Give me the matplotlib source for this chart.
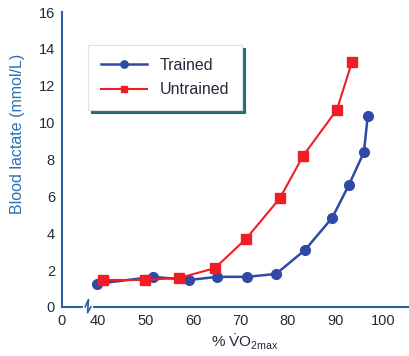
import numpy as np
import matplotlib
matplotlib.use("Agg")
import matplotlib.pyplot as plt
import matplotlib.transforms as mtransforms

## Dati
trained_x = [39.8, 51.6, 59.2, 65.1, 71.4, 77.5, 83.6, 89.3, 92.8, 96.0, 96.8]
trained_y = [1.25, 1.63, 1.46, 1.63, 1.63, 1.79, 3.09, 4.83, 6.6, 8.4, 10.36]
untrained_x = [41.1, 49.9, 57.1, 64.6, 71.2, 78.3, 83.2, 90.3, 93.5]
untrained_y = [1.46, 1.46, 1.57, 2.1, 3.7, 5.9, 8.2, 10.7, 13.3]

x_ticks = [40, 50, 60, 70, 80, 90, 100]
y_ticks = [0, 2, 4, 6, 8, 10, 12, 14, 16]

plt.rcParams['font.family'] = ['Liberation Sans', 'DejaVu Sans']
plt.rcParams['mathtext.fontset'] = 'custom'
plt.rcParams['mathtext.rm'] = 'Liberation Sans'

blue = '#2f49a6'
red = '#f01e24'
axis_col = '#2b5f9e'
text_col = '#222a3a'

fig = plt.figure(figsize=(4.10, 3.56), dpi=100)
ax = fig.add_axes([0.151, 0.138, 0.849, 0.828])

ax.plot(trained_x, trained_y, color=blue, lw=1.8, marker='o', ms=7, label='Trained')
ax.plot(untrained_x, untrained_y, color=red, lw=1.5, marker='s', ms=6.5, label='Untrained')

xmin, xmax = 32.4, 105.7
ax.set_xlim(xmin, xmax)
ax.set_ylim(0, 16)
ax.set_xticks([xmin] + x_ticks)
ax.set_xticklabels(['0'] + [str(t) for t in x_ticks])
ax.set_yticks(y_ticks)
ax.tick_params(length=0, labelsize=10.5, labelcolor=text_col, pad=5)

for s in ['top', 'right']:
    ax.spines[s].set_visible(False)
for s in ['left', 'bottom']:
    ax.spines[s].set_color(axis_col)
    ax.spines[s].set_linewidth(1.5)

# interruzione asse x
trans = mtransforms.blended_transform_factory(ax.transData, ax.transAxes)
bx = 37.9
ax.plot([bx - 0.6, bx + 0.6], [0, 0], color='white', lw=3, transform=trans, clip_on=False, zorder=5)
ax.plot([bx - 0.6, bx + 0.1, bx - 0.1, bx + 0.6], [0, 0.025, -0.02, 0], color=axis_col,
        lw=1.2, transform=trans, clip_on=False, zorder=6)

ax.set_ylabel('Blood lactate (mmol/L)', color='#2a6fb5', fontsize=11.5)
ax.yaxis.set_label_coords(-0.105, 0.586)
ax.set_xlabel(r'% $\dot{\mathrm{V}}\mathrm{O}_{2\mathrm{max}}$', color=text_col, fontsize=11)
ax.xaxis.set_label_coords(0.526, -0.085)

leg = ax.legend(loc='upper left', bbox_to_anchor=(0.075, 0.888), borderaxespad=0,
                fontsize=11.5, handlelength=2.9, markerscale=0.75,
                frameon=True, fancybox=False, borderpad=0.8, labelspacing=0.6,
                shadow={'color': '#1d5f66', 'alpha': 0.9, 'shade': 1.0})
leg.get_frame().set_edgecolor('#d8e4ec')
leg.get_frame().set_linewidth(0.8)
for t in leg.get_texts():
    t.set_color(text_col)

plt.savefig("out.png", dpi=100)
